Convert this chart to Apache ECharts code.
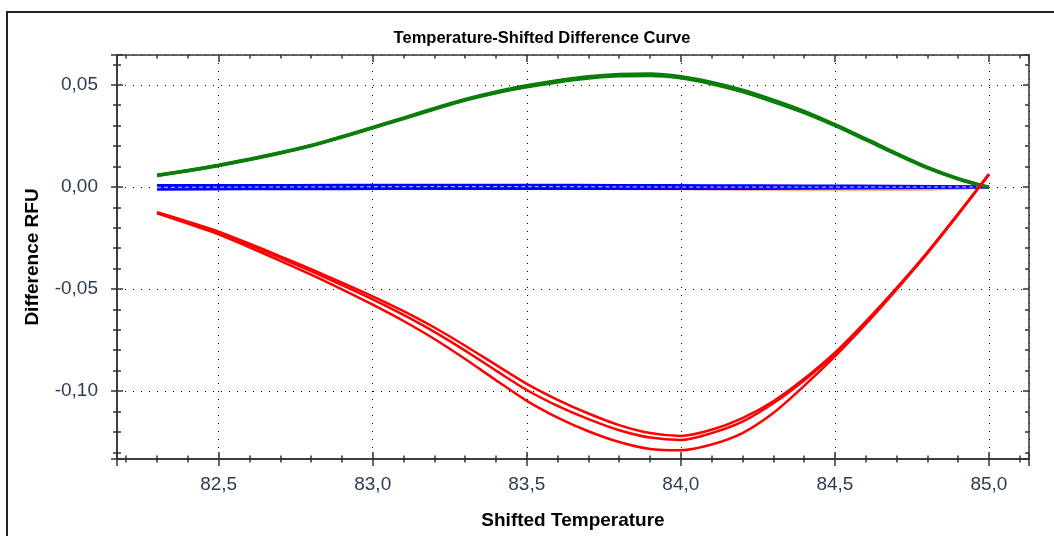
<!DOCTYPE html>
<html>
<head>
<meta charset="utf-8">
<title>Temperature-Shifted Difference Curve</title>
<script src="https://cdn.jsdelivr.net/npm/echarts@6/dist/echarts.min.js"></script>
<style>
  html, body { margin: 0; padding: 0; background: #fff; }
  #chart { width: 1054px; height: 536px; }
</style>
</head>
<body>
<div id="chart"></div>
<script>
// shifted temperature, one point every 0.1 degree
const temps = [82.3, 82.4, 82.5, 82.6, 82.7, 82.8, 82.9, 83.0, 83.1, 83.2, 83.3, 83.4, 83.5, 83.6,
  83.7, 83.8, 83.9, 84.0, 84.1, 84.2, 84.3, 84.4, 84.5, 84.6, 84.7, 84.8, 84.9, 85.0];

const green1 = [0.0057, 0.0080, 0.0106, 0.0135, 0.0167, 0.0203, 0.0246, 0.0291, 0.0337, 0.0384,
  0.0428, 0.0465, 0.0495, 0.0520, 0.0539, 0.0550, 0.0553, 0.0540, 0.0512, 0.0474, 0.0425, 0.0370,
  0.0305, 0.0235, 0.0163, 0.0095, 0.0040, -0.0003];
const green2 = [0.0056, 0.0079, 0.0105, 0.0134, 0.0166, 0.0202, 0.0244, 0.0289, 0.0335, 0.0381,
  0.0425, 0.0461, 0.0490, 0.0514, 0.0533, 0.0544, 0.0546, 0.0534, 0.0505, 0.0467, 0.0418, 0.0364,
  0.0301, 0.0231, 0.0160, 0.0093, 0.0039, -0.0003];

const red1 = [-0.0124, -0.0170, -0.0219, -0.0278, -0.0340, -0.0403, -0.0469, -0.0536, -0.0609, -0.0689,
  -0.0778, -0.0872, -0.0965, -0.1043, -0.1110, -0.1167, -0.1206, -0.1220, -0.1190, -0.1133, -0.1050,
  -0.0940, -0.0812, -0.0660, -0.0496, -0.0320, -0.0132, 0.0063];
const red2 = [-0.0126, -0.0174, -0.0224, -0.0285, -0.0348, -0.0413, -0.0481, -0.0551, -0.0627, -0.0710,
  -0.0802, -0.0900, -0.0995, -0.1073, -0.1138, -0.1192, -0.1228, -0.1240, -0.1206, -0.1150, -0.1060,
  -0.0948, -0.0818, -0.0664, -0.0499, -0.0323, -0.0133, 0.0062];
const red3 = [-0.0129, -0.0180, -0.0232, -0.0296, -0.0362, -0.0430, -0.0502, -0.0577, -0.0657, -0.0745,
  -0.0843, -0.0947, -0.1048, -0.1130, -0.1197, -0.1250, -0.1284, -0.1290, -0.1262, -0.1206, -0.1108,
  -0.0975, -0.0830, -0.0672, -0.0503, -0.0326, -0.0135, 0.0060];

// flat curves near zero
const blueTemps = [82.3, 82.6, 82.9, 83.2, 83.5, 83.8, 84.1, 84.4, 84.7, 85.0];
const blue1 = [0.0008, 0.0008, 0.0009, 0.0009, 0.0009, 0.0008, 0.0007, 0.0006, 0.0004, 0.0002];
const blue2 = [-0.0002, -0.0001, 0.0000, 0.0001, 0.0001, 0.0000, -0.0001, -0.0001, -0.0001, 0.0000];
const blue3 = [-0.0013, -0.0011, -0.0010, -0.0009, -0.0009, -0.0009, -0.0009, -0.0008, -0.0006, -0.0002];

const orangeTemps = [83.6, 84.0, 84.4, 84.8, 85.0];
const orange1 = [-0.0010, -0.0013, -0.0017, -0.0014, -0.0003];

const xMin = 82.17, xMax = 85.13;
const yMin = -0.1333, yMax = 0.0646;

const axisColor = "#333";
const labelColor = "#2d3b55";
const fontFamily = "Liberation Sans, Arial, sans-serif";

function pairs(xs, ys) {
  return xs.map((x, i) => [x, ys[i]]);
}

// x axes: bottom (labels + outer ticks), bottom (inner ticks), top frame
function xAxisCfg(position, inside, main) {
  return {
    type: "value",
    min: xMin,
    max: xMax,
    splitNumber: 6,
    position: position,
    axisLine: { show: true, onZero: false, lineStyle: { color: axisColor, width: 1.5 } },
    axisTick: { show: true, inside: inside, length: 7, lineStyle: { color: axisColor, width: 1.5 } },
    minorTick: { show: true, splitNumber: 5, length: 3.5, lineStyle: { color: axisColor, width: 1.5 } },
    axisLabel: {
      show: main,
      showMinLabel: false,
      showMaxLabel: false,
      margin: 16,
      color: labelColor,
      fontSize: 19,
      fontFamily: fontFamily,
      formatter: (v) => v.toFixed(1).replace(".", ","),
    },
    splitLine: { show: main, lineStyle: { color: "#000", width: 1, type: [1, 7] } },
    name: main ? "Shifted Temperature" : "",
    nameLocation: "middle",
    nameGap: 52,
    nameTextStyle: { color: "#000", fontSize: 19, fontWeight: "bold", fontFamily: fontFamily },
  };
}

function yAxisCfg(position, inside, main) {
  return {
    type: "value",
    min: yMin,
    max: yMax,
    splitNumber: 4,
    position: position,
    axisLine: { show: true, onZero: false, lineStyle: { color: axisColor, width: 1.5 } },
    axisTick: { show: true, inside: inside, length: 6, lineStyle: { color: axisColor, width: 1.5 } },
    minorTick: { show: true, splitNumber: 5, length: 4, lineStyle: { color: axisColor, width: 1.5 } },
    axisLabel: {
      show: main,
      showMinLabel: false,
      showMaxLabel: false,
      margin: 19,
      color: labelColor,
      fontSize: 19,
      fontFamily: fontFamily,
      formatter: (v) => v.toFixed(2).replace(".", ","),
    },
    splitLine: { show: main, lineStyle: { color: "#000", width: 1, type: [1, 7] } },
    name: main ? "Difference RFU" : "",
    nameLocation: "middle",
    nameGap: 75,
    nameTextStyle: { color: "#000", fontSize: 19, fontWeight: "bold", fontFamily: fontFamily },
  };
}

function line(name, xs, ys, color, width, extra) {
  return Object.assign({
    name: name,
    type: "line",
    data: pairs(xs, ys),
    showSymbol: false,
    smooth: 0.3,
    lineStyle: { color: color, width: width },
    itemStyle: { color: color },
    silent: true,
  }, extra || {});
}

const chart = echarts.init(document.getElementById("chart"), null, { renderer: "canvas" });

const option = {
  animation: false,
  backgroundColor: "#fff",
  title: {
    text: "Temperature-Shifted Difference Curve",
    left: 537,
    top: 25,
    textAlign: "center",
    textStyle: { color: "#000", fontSize: 16.5, fontWeight: "bold", fontFamily: fontFamily },
  },
  graphic: [
    {
      type: "rect",
      shape: { x: 7, y: 12, width: 1100, height: 600 },
      style: { fill: "none", stroke: "#222", lineWidth: 2 },
      silent: true,
      z: -1,
    },
  ],
  grid: { left: 117, right: 25, top: 55, bottom: 77, containLabel: false },
  xAxis: [
    xAxisCfg("bottom", false, true),
    xAxisCfg("bottom", true, false),
    xAxisCfg("top", true, false),
  ],
  yAxis: [
    yAxisCfg("left", false, true),
    yAxisCfg("left", true, false),
    yAxisCfg("right", true, false),
  ],
  series: [
    line("orange", orangeTemps, orange1, "#f0a070", 2, { lineStyle: { color: "#f0a070", width: 2, opacity: 0.8 } }),
    line("blue 1", blueTemps, blue1, "#0000ff", 2.5),
    line("blue 2", blueTemps, blue2, "#0000ff", 2.5),
    line("blue 3", blueTemps, blue3, "#0000ff", 2.5),
    line("blue 4", blueTemps, blue2, "#c8c8ff", 1, { lineStyle: { color: "#d0d0ff", width: 1, type: [4, 3] } }),
    line("green 1", temps, green1, "#0a7d0a", 3.5),
    line("green 2", temps, green2, "#0a7d0a", 3.5),
    line("red 1", temps, red1, "#ff0000", 2.5),
    line("red 2", temps, red2, "#ff0000", 2.5),
    line("red 3", temps, red3, "#ff0000", 2.5),
  ],
};

chart.setOption(option);
</script>
</body>
</html>
